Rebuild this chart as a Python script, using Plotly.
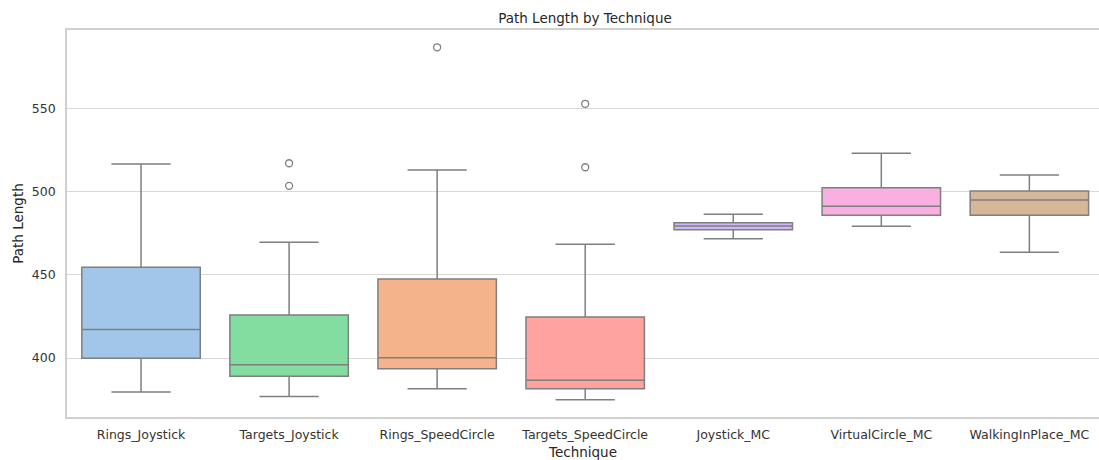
import plotly.graph_objects as go

categories = ["Rings_Joystick", "Targets_Joystick", "Rings_SpeedCircle", "Targets_SpeedCircle",
              "Joystick_MC", "VirtualCircle_MC", "WalkingInPlace_MC"]
lower_whisker = [379.5, 376.9, 381.5, 374.9, 471.8, 479.3, 463.7]
q1_values = [399.8, 389.0, 393.6, 381.5, 477.2, 485.9, 485.9]
median_values = [417.2, 396.0, 400.2, 386.6, 479.4, 491.3, 495.1]
q3_values = [454.6, 425.9, 447.5, 424.7, 481.4, 502.5, 500.5]
upper_whisker = [516.7, 469.6, 513.2, 468.4, 486.5, 523.3, 510.2]
outlier_categories = ["Targets_Joystick", "Targets_Joystick", "Rings_SpeedCircle",
                      "Targets_SpeedCircle", "Targets_SpeedCircle"]
outlier_values = [503.6, 517.2, 587.0, 514.8, 553.0]
y_tick_values = [400, 450, 500, 550]

colors = ["#a1c6ea", "#83dda0", "#f4b38a", "#ffa3a1", "#cfb9f6", "#f9b0e1", "#d5b79a"]
line_gray = "#7f7f7f"
font_family = "DejaVu Sans"

W, H = 1099, 460

fig = go.Figure()
for i, cat in enumerate(categories):
    fig.add_trace(go.Box(
        x=[cat], q1=[q1_values[i]], median=[median_values[i]], q3=[q3_values[i]],
        lowerfence=[lower_whisker[i]], upperfence=[upper_whisker[i]],
        fillcolor=colors[i], line=dict(color=line_gray, width=1.5),
        width=0.8, whiskerwidth=0.5, boxpoints=False, showlegend=False,
        hoverinfo="skip",
    ))

fig.add_trace(go.Scatter(
    x=outlier_categories, y=outlier_values, mode="markers",
    marker=dict(symbol="circle-open", size=7, color=line_gray, line=dict(width=1.3, color=line_gray)),
    showlegend=False, hoverinfo="skip",
))

fig.update_layout(
    width=W, height=H,
    margin=dict(l=67, r=0, t=30, b=43),
    paper_bgcolor="white", plot_bgcolor="white",
    font=dict(family=font_family, color="#333333", size=12.5),
    boxmode="overlay",
    hovermode=False,
    title=dict(text="Path Length by Technique", font=dict(size=13.5, color="#262626", family=font_family),
               xref="container", yref="container", x=585 / W, y=1 - 18.5 / H,
               xanchor="center", yanchor="middle"),
)
fig.update_xaxes(
    type="category", categoryorder="array", categoryarray=categories,
    range=[-0.5, (W - 66.7) / 148.1 - 0.5],
    showgrid=False, zeroline=False,
    showline=True, linecolor="#d0d0d0", linewidth=1.6, mirror=True,
    ticks="outside", ticklen=5, tickcolor="rgba(0,0,0,0)",
    tickfont=dict(size=12.5, color="#333333"),
    title=dict(text="Technique", font=dict(size=13.5, color="#262626"), standoff=7),
)
fig.update_yaxes(
    range=[364.5, 597.4], tickvals=y_tick_values,
    showgrid=True, gridcolor="#d9d9d9", gridwidth=1.4, zeroline=False,
    showline=True, linecolor="#d0d0d0", linewidth=1.6, mirror=False,
    ticks="outside", ticklen=7, tickcolor="rgba(0,0,0,0)",
    tickfont=dict(size=12.5, color="#333333"),
    title=dict(text="Path Length", font=dict(size=13.5, color="#262626"), standoff=5),
)

fig.write_html(
    "out.html",
    config={"displayModeBar": False},
    post_script="document.body.style.margin='0';document.body.style.overflow='hidden';",
)
